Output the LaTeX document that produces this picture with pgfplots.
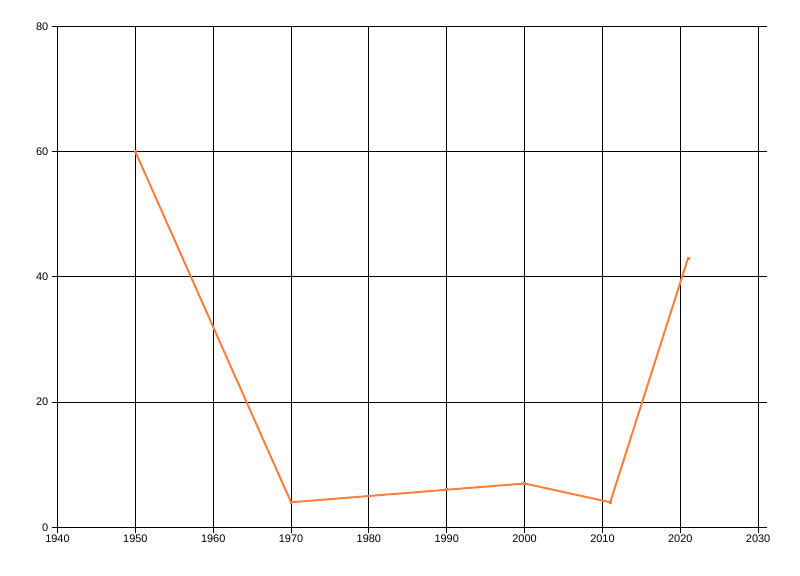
\documentclass[border=0pt]{standalone}
\usepackage{fontspec}
\setmainfont{Liberation Sans}
\usepackage{pgfplots}
\pgfplotsset{compat=1.18}
\definecolor{lineorange}{RGB}{255,127,63}
\begin{document}
\begin{tikzpicture}
\begin{axis}[
  scale only axis,
  width=709.2bp, height=500.8bp,
  xmin=1940, xmax=2031.1,
  ymin=0, ymax=80,
  axis x line=bottom, axis y line=left,
  axis line style={black, line width=1bp, -},
  xtick={1940,1950,...,2030},
  ytick={0,20,...,80},
  grid=major,
  major grid style={black, line width=1bp},
  tick align=outside,
  major tick length=6bp,
  tick style={black, line width=1bp},
  xticklabel style={font=\fontsize{11}{12}\selectfont, inner sep=1bp},
  yticklabel style={font=\fontsize{11}{12}\selectfont, inner sep=1bp, xshift=-2bp},
  /pgf/number format/1000 sep={},
  /pgf/number format/assume math mode=true,
  clip=false,
]
\addplot[lineorange, line width=2bp, mark=square*, mark size=0.45bp,
  mark options={draw=none, fill=gray}] coordinates {
  (1950,60) (1970,4) (1990,6) (2000,7) (2011,4) (2021,43)
};
\end{axis}
\path (current axis.south west) ++(-57.5bp,-48.7bp) rectangle ++(800bp,576bp);
\end{tikzpicture}
\end{document}
